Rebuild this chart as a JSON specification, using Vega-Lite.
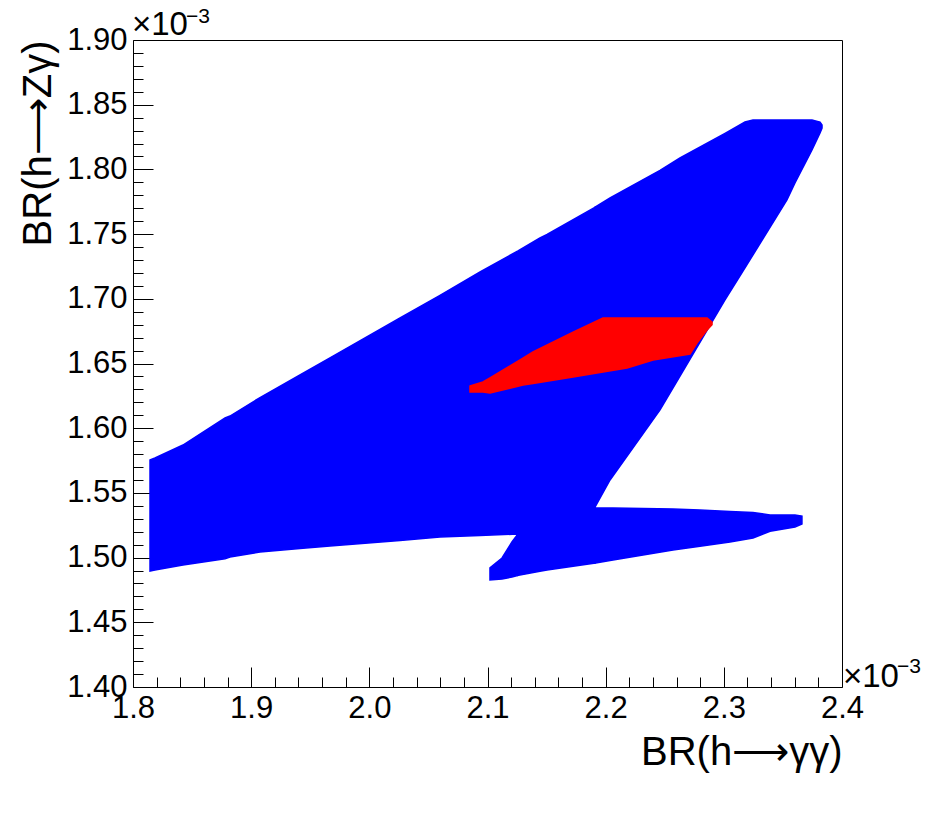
{
  "$schema": "https://vega.github.io/schema/vega-lite/v6.json",
  "width": 709,
  "height": 647,
  "autosize": {"type": "none"},
  "padding": {"left": 133, "top": 40, "right": 110, "bottom": 132},
  "background": "white",
  "config": {
    "view": {"stroke": "black", "strokeWidth": 1},
    "font": "Liberation Sans",
    "axis": {
      "domain": false,
      "grid": false,
      "tickColor": "black",
      "tickWidth": 1,
      "labelColor": "black",
      "labelFont": "Liberation Sans",
      "labelFontSize": 31,
      "labelFlush": false,
      "titleColor": "black",
      "titleFont": "Liberation Sans",
      "titleFontWeight": "normal",
      "titleFontSize": 40
    }
  },
  "resolve": {"axis": {"x": "independent", "y": "independent"}},
  "data": {
    "values": [
      {"r": "blue", "p": "A1", "x": 1.8144, "top": 1.5754, "bot": 1.4896},
      {"r": "blue", "p": "A1", "x": 1.8186, "top": 1.5770, "bot": 1.4904},
      {"r": "blue", "p": "A1", "x": 1.8423, "top": 1.5870, "bot": 1.4943},
      {"r": "blue", "p": "A1", "x": 1.8779, "top": 1.6079, "bot": 1.4991},
      {"r": "blue", "p": "A1", "x": 1.8821, "top": 1.6094, "bot": 1.5005},
      {"r": "blue", "p": "A1", "x": 1.9075, "top": 1.6237, "bot": 1.5043},
      {"r": "blue", "p": "A1", "x": 1.9413, "top": 1.6411, "bot": 1.5070},
      {"r": "blue", "p": "A1", "x": 1.9667, "top": 1.6544, "bot": 1.5090},
      {"r": "blue", "p": "A1", "x": 2.0260, "top": 1.6852, "bot": 1.5132},
      {"r": "blue", "p": "A1", "x": 2.0598, "top": 1.7027, "bot": 1.5159},
      {"r": "blue", "p": "A1", "x": 2.0937, "top": 1.7207, "bot": 1.5171},
      {"r": "blue", "p": "A1", "x": 2.1250, "top": 1.7366, "bot": 1.5182},
      {"r": "blue", "p": "A1", "x": 2.1258, "top": 1.7370, "bot": 1.4862},
      {"r": "blue", "p": "A1", "x": 2.1444, "top": 1.7470, "bot": 1.4894},
      {"r": "blue", "p": "A1", "x": 2.1504, "top": 1.7497, "bot": 1.4904},
      {"r": "blue", "p": "A1", "x": 2.1910, "top": 1.7708, "bot": 1.4958},
      {"r": "blue", "p": "A2", "x": 2.1910, "top": 1.7708, "bot": 1.5391},
      {"r": "blue", "p": "A2", "x": 2.2037, "top": 1.7779, "bot": 1.5600},
      {"r": "blue", "p": "A2", "x": 2.2460, "top": 1.7993, "bot": 1.6141},
      {"r": "blue", "p": "A2", "x": 2.2629, "top": 1.8088, "bot": 1.6403},
      {"r": "blue", "p": "A2", "x": 2.3010, "top": 1.8278, "bot": 1.6991},
      {"r": "blue", "p": "A2", "x": 2.3179, "top": 1.8366, "bot": 1.7240},
      {"r": "blue", "p": "A2", "x": 2.3247, "top": 1.8382, "bot": 1.7340},
      {"r": "blue", "p": "A2", "x": 2.3534, "top": 1.8382, "bot": 1.7764},
      {"r": "blue", "p": "A2", "x": 2.3602, "top": 1.8382, "bot": 1.7895},
      {"r": "blue", "p": "A2", "x": 2.3746, "top": 1.8382, "bot": 1.8150},
      {"r": "blue", "p": "A2", "x": 2.3814, "top": 1.8366, "bot": 1.8281},
      {"r": "blue", "p": "A2", "x": 2.3831, "top": 1.8343, "bot": 1.8320},
      {"r": "blue", "p": "B", "x": 2.1021, "top": 1.4920, "bot": 1.4827},
      {"r": "blue", "p": "B", "x": 2.1123, "top": 1.4997, "bot": 1.4835},
      {"r": "blue", "p": "B", "x": 2.1207, "top": 1.5121, "bot": 1.4850},
      {"r": "blue", "p": "B", "x": 2.1258, "top": 1.5182, "bot": 1.4862},
      {"r": "blue", "p": "C", "x": 2.1910, "top": 1.5383, "bot": 1.4958},
      {"r": "blue", "p": "C", "x": 2.2062, "top": 1.5383, "bot": 1.4981},
      {"r": "blue", "p": "C", "x": 2.2570, "top": 1.5376, "bot": 1.5059},
      {"r": "blue", "p": "C", "x": 2.2798, "top": 1.5368, "bot": 1.5088},
      {"r": "blue", "p": "C", "x": 2.3052, "top": 1.5356, "bot": 1.5121},
      {"r": "blue", "p": "C", "x": 2.3247, "top": 1.5349, "bot": 1.5151},
      {"r": "blue", "p": "C", "x": 2.3391, "top": 1.5329, "bot": 1.5204},
      {"r": "blue", "p": "C", "x": 2.3602, "top": 1.5329, "bot": 1.5236},
      {"r": "blue", "p": "C", "x": 2.3661, "top": 1.5321, "bot": 1.5260},
      {"r": "red", "p": "D", "x": 2.0852, "top": 1.6326, "bot": 1.6280},
      {"r": "red", "p": "D", "x": 2.0962, "top": 1.6357, "bot": 1.6280},
      {"r": "red", "p": "D", "x": 2.1021, "top": 1.6389, "bot": 1.6272},
      {"r": "red", "p": "D", "x": 2.1300, "top": 1.6542, "bot": 1.6334},
      {"r": "red", "p": "D", "x": 2.1385, "top": 1.6589, "bot": 1.6346},
      {"r": "red", "p": "D", "x": 2.1724, "top": 1.6743, "bot": 1.6396},
      {"r": "red", "p": "D", "x": 2.1977, "top": 1.6852, "bot": 1.6434},
      {"r": "red", "p": "D", "x": 2.2181, "top": 1.6852, "bot": 1.6465},
      {"r": "red", "p": "D", "x": 2.2401, "top": 1.6852, "bot": 1.6527},
      {"r": "red", "p": "D", "x": 2.2714, "top": 1.6852, "bot": 1.6573},
      {"r": "red", "p": "D", "x": 2.2773, "top": 1.6852, "bot": 1.6658},
      {"r": "red", "p": "D", "x": 2.2858, "top": 1.6852, "bot": 1.6759},
      {"r": "red", "p": "D", "x": 2.2900, "top": 1.6820, "bot": 1.6800}
    ]
  },
  "layer": [
    {
      "transform": [{"filter": "datum.r === 'blue'"}],
      "mark": {"type": "area", "orient": "vertical", "color": "#0000ff", "stroke": "#0000ff", "strokeWidth": 1.5},
      "encoding": {
        "x": {
          "field": "x",
          "type": "quantitative",
          "scale": {"domain": [1.8, 2.4], "nice": false, "zero": false},
          "axis": {
            "orient": "bottom",
            "values": [1.8, 1.9, 2.0, 2.1, 2.2, 2.3, 2.4],
            "format": ".1f",
            "tickSize": -20,
            "labelOverlap": false,
            "labelFlush": false,
            "labelPadding": 26,
            "labelBaseline": "top",
            "title": "BR(h⟶γγ)",
            "titleAnchor": "end",
            "titleAlign": "right",
            "titleBaseline": "alphabetic",
            "titleX": 709,
            "titleY": 77
          }
        },
        "y": {
          "field": "top",
          "type": "quantitative",
          "scale": {"domain": [1.4, 1.9], "nice": false, "zero": false},
          "axis": {
            "orient": "left",
            "values": [1.4, 1.45, 1.5, 1.55, 1.6, 1.65, 1.7, 1.75, 1.8, 1.85, 1.9],
            "format": ".2f",
            "tickSize": -20,
            "labelOverlap": false,
            "labelFlush": false,
            "labelPadding": 26,
            "labelBaseline": "middle",
            "title": "BR(h⟶Zγ)",
            "titleAngle": -90,
            "titleAnchor": "end",
            "titleAlign": "right",
            "titleBaseline": "alphabetic",
            "titleX": -83,
            "titleY": 0
          }
        },
        "y2": {"field": "bot"},
        "detail": {"field": "p"}
      }
    },
    {
      "transform": [{"filter": "datum.r === 'red'"}],
      "mark": {"type": "area", "orient": "vertical", "color": "#ff0000", "stroke": "#ff0000", "strokeWidth": 1.5},
      "encoding": {
        "x": {
          "field": "x",
          "type": "quantitative",
          "axis": {
            "orient": "bottom",
            "values": [1.82,1.84,1.86,1.88,1.92,1.94,1.96,1.98,2.02,2.04,2.06,2.08,2.12,2.14,2.16,2.18,2.22,2.24,2.26,2.28,2.32,2.34,2.36,2.38],
            "tickSize": -10,
            "labels": false,
            "title": null
          }
        },
        "y": {
          "field": "top",
          "type": "quantitative",
          "axis": {
            "orient": "left",
            "values": [1.41,1.42,1.43,1.44,1.46,1.47,1.48,1.49,1.51,1.52,1.53,1.54,1.56,1.57,1.58,1.59,1.61,1.62,1.63,1.64,1.66,1.67,1.68,1.69,1.71,1.72,1.73,1.74,1.76,1.77,1.78,1.79,1.81,1.82,1.83,1.84,1.86,1.87,1.88,1.89],
            "tickSize": -10,
            "labels": false,
            "title": null
          }
        },
        "y2": {"field": "bot"},
        "detail": {"field": "p"}
      }
    },
    {
      "data": {"values": [{}]},
      "mark": {"type": "text", "text": "×10", "align": "left", "baseline": "alphabetic", "fontSize": 33, "dx": -1, "dy": -5, "color": "black"},
      "encoding": {"x": {"datum": 1.8, "type": "quantitative", "axis": null}, "y": {"datum": 1.9, "type": "quantitative", "axis": null}}
    },
    {
      "data": {"values": [{}]},
      "mark": {"type": "text", "text": "−3", "align": "left", "baseline": "alphabetic", "fontSize": 21, "dx": 53, "dy": -17, "color": "black"},
      "encoding": {"x": {"datum": 1.8, "type": "quantitative", "axis": null}, "y": {"datum": 1.9, "type": "quantitative", "axis": null}}
    },
    {
      "data": {"values": [{}]},
      "mark": {"type": "text", "text": "×10", "align": "left", "baseline": "alphabetic", "fontSize": 33, "dx": 1, "dy": 0, "color": "black"},
      "encoding": {"x": {"datum": 2.4, "type": "quantitative", "axis": null}, "y": {"datum": 1.4, "type": "quantitative", "axis": null}}
    },
    {
      "data": {"values": [{}]},
      "mark": {"type": "text", "text": "−3", "align": "left", "baseline": "alphabetic", "fontSize": 21, "dx": 55, "dy": -14, "color": "black"},
      "encoding": {"x": {"datum": 2.4, "type": "quantitative", "axis": null}, "y": {"datum": 1.4, "type": "quantitative", "axis": null}}
    }
  ]
}
